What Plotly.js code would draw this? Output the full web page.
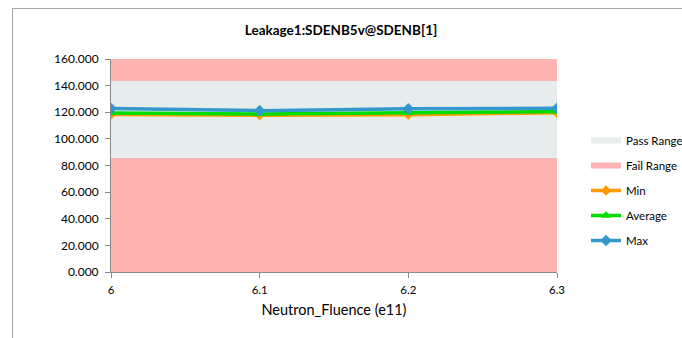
<!DOCTYPE html>
<html>
<head>
<meta charset="utf-8">
<script src="https://cdn.plot.ly/plotly-3.0.1.min.js"></script>
<style>
html,body{margin:0;padding:0;background:#fff;overflow:hidden;}
#wrap{position:relative;width:682px;height:338px;}
#chart{position:absolute;left:0;top:0;width:682px;height:338px;}
#frame{position:absolute;left:12px;top:8px;width:700px;height:400px;border-top:1.5px solid #A6A6A6;border-left:1.5px solid #A6A6A6;pointer-events:none;}
</style>
</head>
<body>
<div id="wrap"><div id="chart"></div><div id="frame"></div></div>
<script>
const fluence = [6, 6.1, 6.2, 6.3];
const minVals = [118.3, 117.8, 118.2, 119.6];
const avgVals = [119.5, 118.6, 119.6, 120.5];
const maxVals = [122.8, 121.2, 122.6, 123.0];
const passLow = [85.6, 85.6, 85.6, 85.6];
const passHigh = [143.5, 143.5, 143.5, 143.5];
const axisTop = [160, 160, 160, 160];
const yTicks = [0, 20, 40, 60, 80, 100, 120, 140, 160];

const FONT = 'Lato, "Liberation Sans", sans-serif';
const L = 111, R = 557, T = 59, B = 272;
const px = v => (v - L) / (R - L);
const py = v => (B - v) / (B - T);

const traces = [
  {x: fluence, y: passLow, type: 'scatter', mode: 'none', fill: 'tozeroy', fillcolor: '#FFB3B3',
   name: 'Fail Range', legendgroup: 'fail', legendrank: 2, hoverinfo: 'skip'},
  {x: fluence, y: passHigh, type: 'scatter', mode: 'none', fill: 'tonexty', fillcolor: '#E7ECEC',
   name: 'Pass Range', legendgroup: 'pass', legendrank: 1, hoverinfo: 'skip'},
  {x: fluence, y: axisTop, type: 'scatter', mode: 'none', fill: 'tonexty', fillcolor: '#FFB3B3',
   name: 'Fail Range', legendgroup: 'fail', showlegend: false, hoverinfo: 'skip'},
  {x: fluence, y: minVals, type: 'scatter', mode: 'lines+markers', name: 'Min', legendgroup: 'min', legendrank: 3,
   line: {color: '#FF9A00', width: 3.5}, marker: {symbol: 'diamond', size: 8, color: '#FF9A00'}},
  {x: fluence, y: avgVals, type: 'scatter', mode: 'lines+markers', name: 'Average', legendgroup: 'avg', legendrank: 4,
   line: {color: '#00DD00', width: 3.5}, marker: {symbol: 'triangle-up', size: 9, color: '#00DD00'}},
  {x: fluence, y: maxVals, type: 'scatter', mode: 'lines+markers', name: 'Max', legendgroup: 'max', legendrank: 5,
   line: {color: '#3399CC', width: 3.5}, marker: {symbol: 'diamond', size: 9, color: '#3399CC'}}
];

const layout = {
  width: 682, height: 338,
  margin: {l: L, r: 682 - R, t: T, b: 338 - B, pad: 0, autoexpand: false},
  paper_bgcolor: '#FFFFFF', plot_bgcolor: '#FFFFFF',
  font: {family: FONT, size: 11.5, color: '#000'},
  title: {text: '<b>Leakage1:SDENB5v@SDENB[1]</b>', font: {family: FONT, size: 13.5, color: '#000'},
          x: 0.5, xanchor: 'center', y: 1 - 30 / 338, yanchor: 'middle'},
  xaxis: {range: [6, 6.3], tickvals: fluence, ticktext: ['6', '6.1', '6.2', '6.3'],
          showgrid: false, zeroline: false, showline: true, linecolor: '#888', linewidth: 1,
          ticks: 'outside', ticklen: 5, tickcolor: '#888', tickfont: {size: 11.5}, ticklabelstandoff: 2,
          title: {text: 'Neutron_Fluence (e11)', font: {size: 14.5}, standoff: 10}},
  yaxis: {range: [0, 160], tickvals: yTicks, ticktext: yTicks.map(v => v.toFixed(3)),
          showgrid: false, zeroline: false, showline: true, linecolor: '#888', linewidth: 1,
          ticks: 'outside', ticklen: 5, tickcolor: '#888', tickfont: {size: 12}, ticklabelstandoff: 4},
  legend: {x: px(586), xanchor: 'left', y: py(126), yanchor: 'top', font: {size: 11.5},
           tracegroupgap: 6, itemwidth: 30, bgcolor: 'rgba(0,0,0,0)', borderwidth: 0, maxheight: 330},
  showlegend: true
};

Plotly.newPlot('chart', traces, layout, {displayModeBar: false, staticPlot: true});
</script>
</body>
</html>
